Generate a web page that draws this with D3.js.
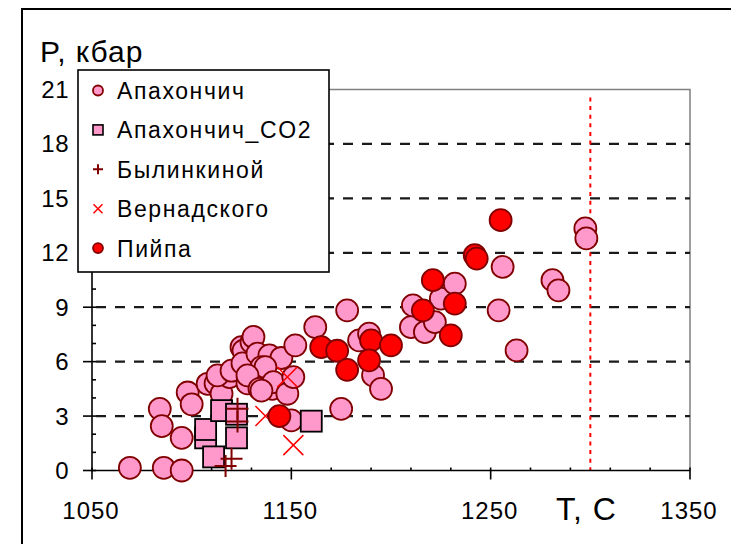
<!DOCTYPE html>
<html>
<head>
<meta charset="utf-8">
<script src="https://cdn.jsdelivr.net/npm/d3@7"></script>
<style>
  html, body { margin: 0; padding: 0; background: #fff; }
  svg { display: block; }
  text { font-family: "Liberation Sans", Arial, sans-serif; fill: #000; }
</style>
</head>
<body>
<div id="chart"></div>
<script>
// series: [T, P] pairs
const apakhonchich = [
  [1069, 0.15], [1086, 0.15], [1095, 0.0], [1084, 3.4], [1085, 2.45], [1095, 1.8],
  [1098, 4.3], [1100, 3.65], [1108, 4.78], [1112, 4.8], [1115, 4.23], [1119, 5.15],
  [1113, 5.24], [1120, 5.5], [1125, 6.8], [1126, 6.6], [1125.5, 5.9], [1130, 7.08],
  [1131, 7.36], [1133, 6.44], [1139, 6.35], [1145, 6.2], [1135, 5.7], [1137, 5.7],
  [1128, 4.8], [1128, 5.24], [1134, 4.5], [1140.5, 4.5], [1141, 4.87], [1148, 4.23],
  [1151, 5.15], [1152, 6.9], [1162, 7.9], [1150, 2.76], [1135, 4.4], [1178, 8.83],
  [1175, 3.4], [1184, 7.17], [1189, 7.54], [1191, 5.24], [1195, 4.5], [1210, 7.9],
  [1217, 7.63], [1211, 9.1], [1222, 8.18], [1225, 9.47], [1232, 10.3], [1256, 11.22],
  [1254, 8.83], [1263, 6.62], [1281, 10.49], [1284, 9.93], [1297.5, 13.34], [1298, 12.79],
];
const apakhonchichCO2 = [
  [1107, 1.8], [1107, 2.26], [1111, 0.75], [1115, 3.3], [1122.5, 3.1], [1122.5, 1.8], [1160, 2.72],
];
const bylinkinoy = [
  [1123, 3.4], [1123, 2.7], [1120, 0.65], [1117, 0.25],
];
const vernadskogo = [
  [1151, 1.4], [1148, 5.15], [1137, 3.0],
];
const piypa = [
  [1144, 3.0], [1165, 6.8], [1173, 6.6], [1178, 5.55], [1190, 7.17], [1200, 6.9],
  [1189, 6.07], [1216, 8.83], [1230, 7.45], [1221, 10.49], [1232, 9.2], [1242, 11.87],
  [1243, 11.68], [1255, 13.8],
];

const legendLabels = ["Апахончич", "Апахончич_CO2", "Былинкиной", "Вернадского", "Пийпа"];
const yTicks = [0, 3, 6, 9, 12, 15, 18, 21];
const xTicks = [1050, 1150, 1250, 1350];
const limitT = 1300;

const PINK = "#ff99cc";
const DARK = "#800000";
const RED = "#ff0000";

const width = 731;
const height = 544;

const svg = d3.select("#chart").append("svg")
  .attr("width", width)
  .attr("height", height);

const x = d3.scaleLinear().domain([1050, 1350]).range([92, 690]);
const y = d3.scaleLinear().domain([0, 21]).range([470.5, 89.5]);

// outer frame
svg.append("path")
  .attr("d", `M22,${height + 2}V9H${width + 2}`)
  .attr("fill", "none")
  .attr("stroke", "#000")
  .attr("stroke-width", 2);

// plot border (top/right)
svg.append("path")
  .attr("d", `M${x(1050)},${y(21)}H${x(1350)}V${y(0)}`)
  .attr("fill", "none")
  .attr("stroke", "#808080")
  .attr("stroke-width", 1.5);

// dashed grid
svg.append("g")
  .selectAll("line")
  .data(yTicks.filter((d) => d > 0 && d < 21))
  .join("line")
  .attr("x1", x(1050) + 4)
  .attr("x2", x(1350))
  .attr("y1", (d) => y(d))
  .attr("y2", (d) => y(d))
  .attr("stroke", "#1a1a1a")
  .attr("stroke-width", 2.2)
  .attr("stroke-dasharray", "10,9");

// red dotted line at T = 1300
svg.append("line")
  .attr("x1", x(limitT))
  .attr("x2", x(limitT))
  .attr("y1", y(21) + 8)
  .attr("y2", y(0))
  .attr("stroke", RED)
  .attr("stroke-width", 2)
  .attr("stroke-dasharray", "4,4.6");

// axes
const axes = svg.append("g").attr("stroke", "#000").attr("stroke-width", 1.6);
axes.append("line").attr("x1", x(1050)).attr("x2", x(1050)).attr("y1", y(21)).attr("y2", y(0) + 1);
axes.append("line").attr("x1", x(1050)).attr("x2", x(1350)).attr("y1", y(0)).attr("y2", y(0));

axes.selectAll(".ymaj").data(yTicks).join("line")
  .attr("x1", x(1050) - 9).attr("x2", x(1050) + 4)
  .attr("y1", (d) => y(d)).attr("y2", (d) => y(d));
axes.selectAll(".ymin").data(d3.range(1, 21).filter((d) => d % 3 !== 0)).join("line")
  .attr("x1", x(1050)).attr("x2", x(1050) + 4)
  .attr("y1", (d) => y(d)).attr("y2", (d) => y(d));

axes.selectAll(".xmaj").data(xTicks).join("line")
  .attr("x1", (d) => x(d)).attr("x2", (d) => x(d))
  .attr("y1", y(0) - 3).attr("y2", y(0) + 9);
axes.selectAll(".xmin").data(d3.range(1070, 1350, 20).filter((d) => (d - 1050) % 100 !== 0)).join("line")
  .attr("x1", (d) => x(d)).attr("x2", (d) => x(d))
  .attr("y1", y(0) - 3).attr("y2", y(0));

// tick labels
svg.append("g").selectAll("text").data(yTicks).join("text")
  .attr("x", 69)
  .attr("y", (d) => y(d) + 8.5)
  .attr("text-anchor", "end")
  .attr("font-size", 24)
  .attr("letter-spacing", 0.5)
  .text((d) => d);

svg.append("g").selectAll("text").data(xTicks).join("text")
  .attr("x", (d) => x(d) - 1)
  .attr("y", 519)
  .attr("text-anchor", "middle")
  .attr("font-size", 24)
  .attr("letter-spacing", 1)
  .text((d) => d);

svg.append("text")
  .attr("x", 40).attr("y", 62)
  .attr("font-size", 30)
  .attr("letter-spacing", 1)
  .text("P, кбар");

svg.append("text")
  .attr("x", 556).attr("y", 520)
  .attr("font-size", 32)
  .attr("letter-spacing", 1)
  .text("T, C");

// markers
const plot = svg.append("g");

function circles(data, fill, r) {
  plot.append("g").selectAll("circle").data(data).join("circle")
    .attr("cx", (d) => x(d[0]))
    .attr("cy", (d) => y(d[1]))
    .attr("r", r)
    .attr("fill", fill)
    .attr("stroke", DARK)
    .attr("stroke-width", 1.8);
}

circles(apakhonchich, PINK, 11);

plot.append("g").selectAll("rect").data(apakhonchichCO2).join("rect")
  .attr("x", (d) => x(d[0]) - 10.5)
  .attr("y", (d) => y(d[1]) - 10.5)
  .attr("width", 21)
  .attr("height", 21)
  .attr("fill", PINK)
  .attr("stroke", "#000")
  .attr("stroke-width", 1.8);

plot.append("g").selectAll("path").data(bylinkinoy).join("path")
  .attr("d", (d) => `M${x(d[0]) - 11},${y(d[1])}h22M${x(d[0])},${y(d[1]) - 11}v22`)
  .attr("stroke", DARK)
  .attr("stroke-width", 2);

plot.append("g").selectAll("path").data(vernadskogo).join("path")
  .attr("d", (d) => `M${x(d[0]) - 10},${y(d[1]) - 10}l20,20M${x(d[0]) + 10},${y(d[1]) - 10}l-20,20`)
  .attr("stroke", RED)
  .attr("stroke-width", 1.5);

circles(piypa, RED, 11);

// legend
const legend = svg.append("g");
legend.append("rect")
  .attr("x", 78).attr("y", 70)
  .attr("width", 251).attr("height", 202)
  .attr("fill", "#fff")
  .attr("stroke", "#000")
  .attr("stroke-width", 1.6);

const rows = legend.selectAll("g").data(legendLabels).join("g")
  .attr("transform", (d, i) => `translate(98,${90.5 + i * 39.4})`);

rows.append("text")
  .attr("x", 19).attr("y", 8.5)
  .attr("font-size", 23)
  .attr("letter-spacing", 1.6)
  .text((d) => d);

rows.filter((d, i) => i === 0).append("circle").attr("r", 5).attr("fill", PINK).attr("stroke", DARK).attr("stroke-width", 1.8);
rows.filter((d, i) => i === 1).append("rect").attr("x", -5).attr("y", -5).attr("width", 10).attr("height", 10)
  .attr("fill", PINK).attr("stroke", "#000").attr("stroke-width", 1.6);
rows.filter((d, i) => i === 2).append("path").attr("d", "M-5,0h10M0,-5v10").attr("stroke", DARK).attr("stroke-width", 2);
rows.filter((d, i) => i === 3).append("path").attr("d", "M-4.5,-4.5l9,9M4.5,-4.5l-9,9").attr("stroke", RED).attr("stroke-width", 1.5);
rows.filter((d, i) => i === 4).append("circle").attr("r", 5).attr("fill", RED).attr("stroke", DARK).attr("stroke-width", 1.8);
</script>
</body>
</html>
